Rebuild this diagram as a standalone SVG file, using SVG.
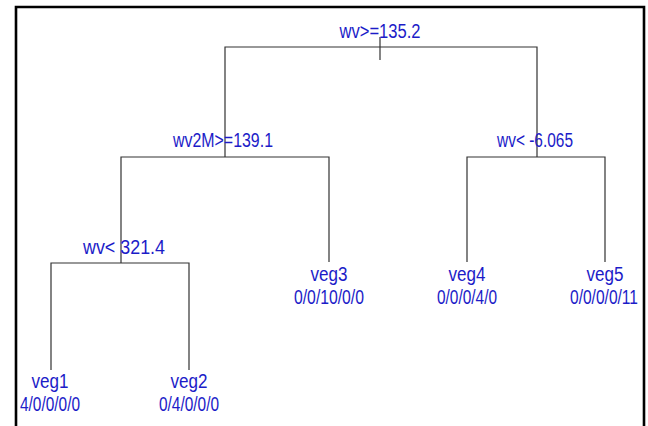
<svg xmlns="http://www.w3.org/2000/svg" width="648" height="426" viewBox="0 0 648 426">
<style>
.t{font-family:"Liberation Sans",Arial,sans-serif;font-size:20px;fill:#1c1cc8;text-anchor:middle}
.e{stroke:#333;stroke-width:1.2;fill:none}
</style>
<rect x="0" y="0" width="648" height="426" fill="#fff"/>
<path d="M16,430 V7 H644 V430" fill="none" stroke="#000" stroke-width="2.6"/>
<g id="edges" class="e">
<path d="M380,37 V60"/>
<path d="M225,157 V47 H537 V157"/>
<path d="M121,263 V157 H329 V262"/>
<path d="M467,262 V157 H605 V262"/>
<path d="M51,370 V263 H189 V370"/>
</g>
<g id="n1"><text class="t" x="380" y="38" textLength="81" lengthAdjust="spacingAndGlyphs">wv&gt;=135.2</text></g>
<g id="n2"><text class="t" x="223" y="147" textLength="100" lengthAdjust="spacingAndGlyphs">wv2M&gt;=139.1</text></g>
<g id="n3"><text class="t" x="535" y="147" textLength="76" lengthAdjust="spacingAndGlyphs">wv&lt; -6.065</text></g>
<g id="n4"><text class="t" x="124" y="254" textLength="82" lengthAdjust="spacingAndGlyphs">wv&lt; 321.4</text></g>
<g id="veg1"><text class="t" x="50" y="388" textLength="37" lengthAdjust="spacingAndGlyphs">veg1</text><text class="t" x="50" y="411" textLength="60" lengthAdjust="spacingAndGlyphs">4/0/0/0/0</text></g>
<g id="veg2"><text class="t" x="189" y="388" textLength="37" lengthAdjust="spacingAndGlyphs">veg2</text><text class="t" x="189" y="411" textLength="60" lengthAdjust="spacingAndGlyphs">0/4/0/0/0</text></g>
<g id="veg3"><text class="t" x="329" y="281" textLength="37" lengthAdjust="spacingAndGlyphs">veg3</text><text class="t" x="329" y="304" textLength="70" lengthAdjust="spacingAndGlyphs">0/0/10/0/0</text></g>
<g id="veg4"><text class="t" x="467" y="281" textLength="37" lengthAdjust="spacingAndGlyphs">veg4</text><text class="t" x="467" y="304" textLength="60" lengthAdjust="spacingAndGlyphs">0/0/0/4/0</text></g>
<g id="veg5"><text class="t" x="605" y="281" textLength="37" lengthAdjust="spacingAndGlyphs">veg5</text><text class="t" x="604" y="304" textLength="68" lengthAdjust="spacingAndGlyphs">0/0/0/0/11</text></g>
</svg>
